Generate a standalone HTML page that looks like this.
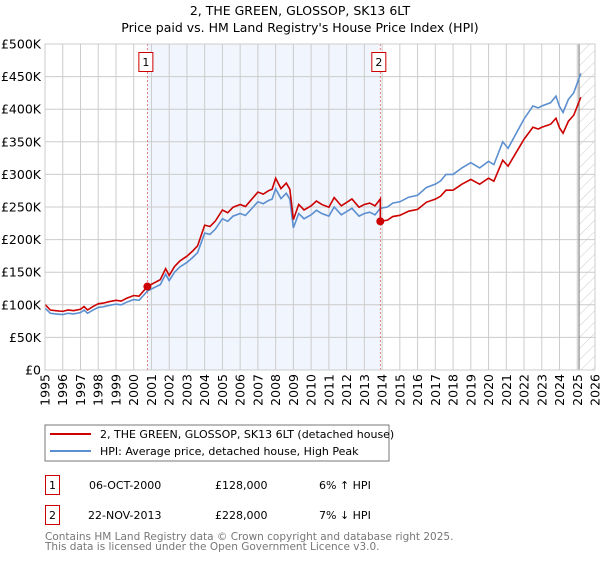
<!DOCTYPE html>
<html><head><meta charset="utf-8"><style>
body{margin:0;background:#fff;font-family:"Liberation Sans","DejaVu Sans",sans-serif;}
svg text{font-family:"DejaVu Sans","Liberation Sans",sans-serif;}
</style></head><body>
<svg id="c" width="600" height="560" xmlns="http://www.w3.org/2000/svg">
<defs><pattern id="hatch" width="8" height="8" patternUnits="userSpaceOnUse" patternTransform="rotate(45)"><line x1="0" y1="0" x2="0" y2="8" stroke="#ccc" stroke-width="1"/></pattern></defs>
<text x="300" y="15" text-anchor="middle" font-size="12.5" fill="#000">2, THE GREEN, GLOSSOP, SK13 6LT</text>
<text x="300" y="32" text-anchor="middle" font-size="12.5" fill="#000">Price paid vs. HM Land Registry's House Price Index (HPI)</text>
<g id="plot"></g>
<rect x="45" y="425" width="344" height="36" fill="none" stroke="#777"/>
<line x1="50" y1="434" x2="91" y2="434" stroke="#cc0000" stroke-width="2"/>
<text x="100" y="438" font-size="11">2, THE GREEN, GLOSSOP, SK13 6LT (detached house)</text>
<line x1="50" y1="451" x2="91" y2="451" stroke="#5b8fd0" stroke-width="2"/>
<text x="100" y="455" font-size="11">HPI: Average price, detached house, High Peak</text>
<g font-size="11">
<rect x="45.5" y="475.5" width="14" height="19" fill="none" stroke="#cc0000"/>
<text x="52.5" y="489" text-anchor="middle">1</text>
<text x="89" y="489">06-OCT-2000</text>
<text x="215" y="489">£128,000</text>
<text x="319" y="489">6% ↑ HPI</text>
<rect x="45.5" y="505.5" width="14" height="19" fill="none" stroke="#cc0000"/>
<text x="52.5" y="519" text-anchor="middle">2</text>
<text x="88" y="519">22-NOV-2013</text>
<text x="215" y="519">£228,000</text>
<text x="319" y="519">7% ↓ HPI</text>
</g>
<text x="45" y="540" font-size="10.5" fill="#777">Contains HM Land Registry data © Crown copyright and database right 2025.</text>
<text x="45" y="550" font-size="10.5" fill="#777">This data is licensed under the Open Government Licence v3.0.</text>
</svg>
<script>
const hpiYears=[1995.0,1995.3,1995.6,1996.0,1996.3,1996.6,1997.0,1997.2,1997.4,1997.7,1998.0,1998.3,1998.6,1999.0,1999.3,1999.6,2000.0,2000.3,2000.77,2001.2,2001.5,2001.8,2002.0,2002.3,2002.6,2003.0,2003.3,2003.6,2004.0,2004.3,2004.6,2005.0,2005.3,2005.6,2006.0,2006.3,2006.6,2007.0,2007.3,2007.6,2007.8,2008.0,2008.3,2008.6,2008.8,2009.0,2009.3,2009.6,2010.0,2010.3,2010.6,2011.0,2011.3,2011.7,2012.0,2012.3,2012.7,2013.0,2013.3,2013.6,2013.9,2014.3,2014.6,2015.0,2015.5,2016.0,2016.5,2017.0,2017.3,2017.6,2018.0,2018.5,2019.0,2019.5,2020.0,2020.3,2020.8,2021.1,2021.5,2022.0,2022.5,2022.8,2023.0,2023.5,2023.8,2024.0,2024.2,2024.5,2024.8,2025.0,2025.2];
const hpiValues=[95,87,86,85,87,86,88,92,87,92,96,97,99,101,100,104,108,107,121,127,131,147,137,150,158,165,172,180,210,208,216,232,228,236,240,237,246,258,255,260,262,278,263,271,262,218,240,232,238,245,240,236,250,238,243,248,236,240,242,238,248,250,256,258,265,268,280,285,290,300,300,310,318,310,320,315,350,340,360,385,405,402,405,410,420,404,395,415,425,440,455];
const saleYears=[2000.77,2013.9];
const salePrices=[128000,228000];
const yTicks=[0,50000,100000,150000,200000,250000,300000,350000,400000,450000,500000];
const yTickLabels=["£0","£50K","£100K","£150K","£200K","£250K","£300K","£350K","£400K","£450K","£500K"];
const xTickYears=[1995,1996,1997,1998,1999,2000,2001,2002,2003,2004,2005,2006,2007,2008,2009,2010,2011,2012,2013,2014,2015,2016,2017,2018,2019,2020,2021,2022,2023,2024,2025,2026];
const dataEndYear=2025.1;

const L=45,R=595,T=44,B=370;
const X=y=>L+(y-1995)/(2026-1995)*(R-L);
const Y=v=>B-v/500000*(B-T);
const NS='http://www.w3.org/2000/svg';
const g=document.getElementById('plot');
function mk(tag,attrs,parent){const e=document.createElementNS(NS,tag);for(const k in attrs)e.setAttribute(k,attrs[k]);(parent||g).appendChild(e);return e;}

let e;
e=mk('rect',{x:X(saleYears[0]),y:T,width:X(saleYears[1])-X(saleYears[0]),height:B-T,fill:'#eef3fc',opacity:0.8});


e=mk('rect',{x:X(dataEndYear),y:T,width:R-X(dataEndYear),height:B-T,fill:'url(#hatch)'});


yTicks.forEach((v,i)=>{
 e=mk('line',{x1:L,x2:R,y1:Y(v),y2:Y(v),stroke:'#ccc','stroke-width':1});
 
 
 e=mk('text',{x:L-4,y:Y(v)+4.5,'text-anchor':'end','font-size':12.5});
 e.textContent=yTickLabels[i];
 
 
});
xTickYears.forEach(yr=>{
 e=mk('line',{x1:X(yr),x2:X(yr),y1:T,y2:B,stroke:'#ccc','stroke-width':1});
 
 
 e=mk('text',{transform:`translate(${X(yr)+4.5},${B+4}) rotate(-90)`,'text-anchor':'end','font-size':12.5});
 e.textContent=yr;
 
 
});
e=mk('line',{x1:X(dataEndYear),x2:X(dataEndYear),y1:T,y2:B,stroke:'#888','stroke-width':1.2});


saleYears.forEach((sy,i)=>{
 e=mk('line',{x1:X(sy),x2:X(sy),y1:T,y2:B,stroke:'#e06060','stroke-width':0.8,'stroke-dasharray':'2,2'});
 
 
 e=mk('rect',{x:X(sy)-8.5,y:52.5,width:14,height:19,fill:'#fff',stroke:'#cc0000'});
 
 
 e=mk('text',{x:X(sy)-1.5,y:66,'text-anchor':'middle','font-size':11});
 e.textContent=String(i+1);
 
 
});
function hpiAt(yr){for(let i=0;i<hpiYears.length-1;i++){if(yr<=hpiYears[i+1]){const t=(yr-hpiYears[i])/(hpiYears[i+1]-hpiYears[i]);return hpiValues[i]+t*(hpiValues[i+1]-hpiValues[i]);}}return hpiValues[hpiValues.length-1];}
let redPts=[];
hpiYears.forEach((yr,i)=>{
 let ref=yr<saleYears[1]?0:1;
 let f=salePrices[ref]/1000/hpiAt(saleYears[ref]);
 if(i>0&&hpiYears[i-1]<saleYears[1]&&yr>=saleYears[1]){
  let f0=salePrices[0]/1000/hpiAt(saleYears[0]);
  redPts.push([X(saleYears[1]),Y(hpiAt(saleYears[1])*f0*1000)]);
  redPts.push([X(saleYears[1]),Y(salePrices[1])]);
 }
 redPts.push([X(yr),Y(hpiValues[i]*f*1000)]);
});
e=mk('polyline',{points:hpiYears.map((yr,i)=>X(yr)+','+Y(hpiValues[i]*1000)).join(' '),fill:'none',stroke:'#5b8fd0','stroke-width':1.6});


e=mk('polyline',{points:redPts.map(p=>p.join(',')).join(' '),fill:'none',stroke:'#cc0000','stroke-width':1.6});


saleYears.forEach((sy,i)=>{
 e=mk('circle',{cx:X(sy),cy:Y(salePrices[i]),r:4,fill:'#cc0000'});
 
 
});
e=mk('rect',{x:L,y:T,width:R-L,height:B-T,fill:'none',stroke:'#ccc'});


</script>
</body></html>
